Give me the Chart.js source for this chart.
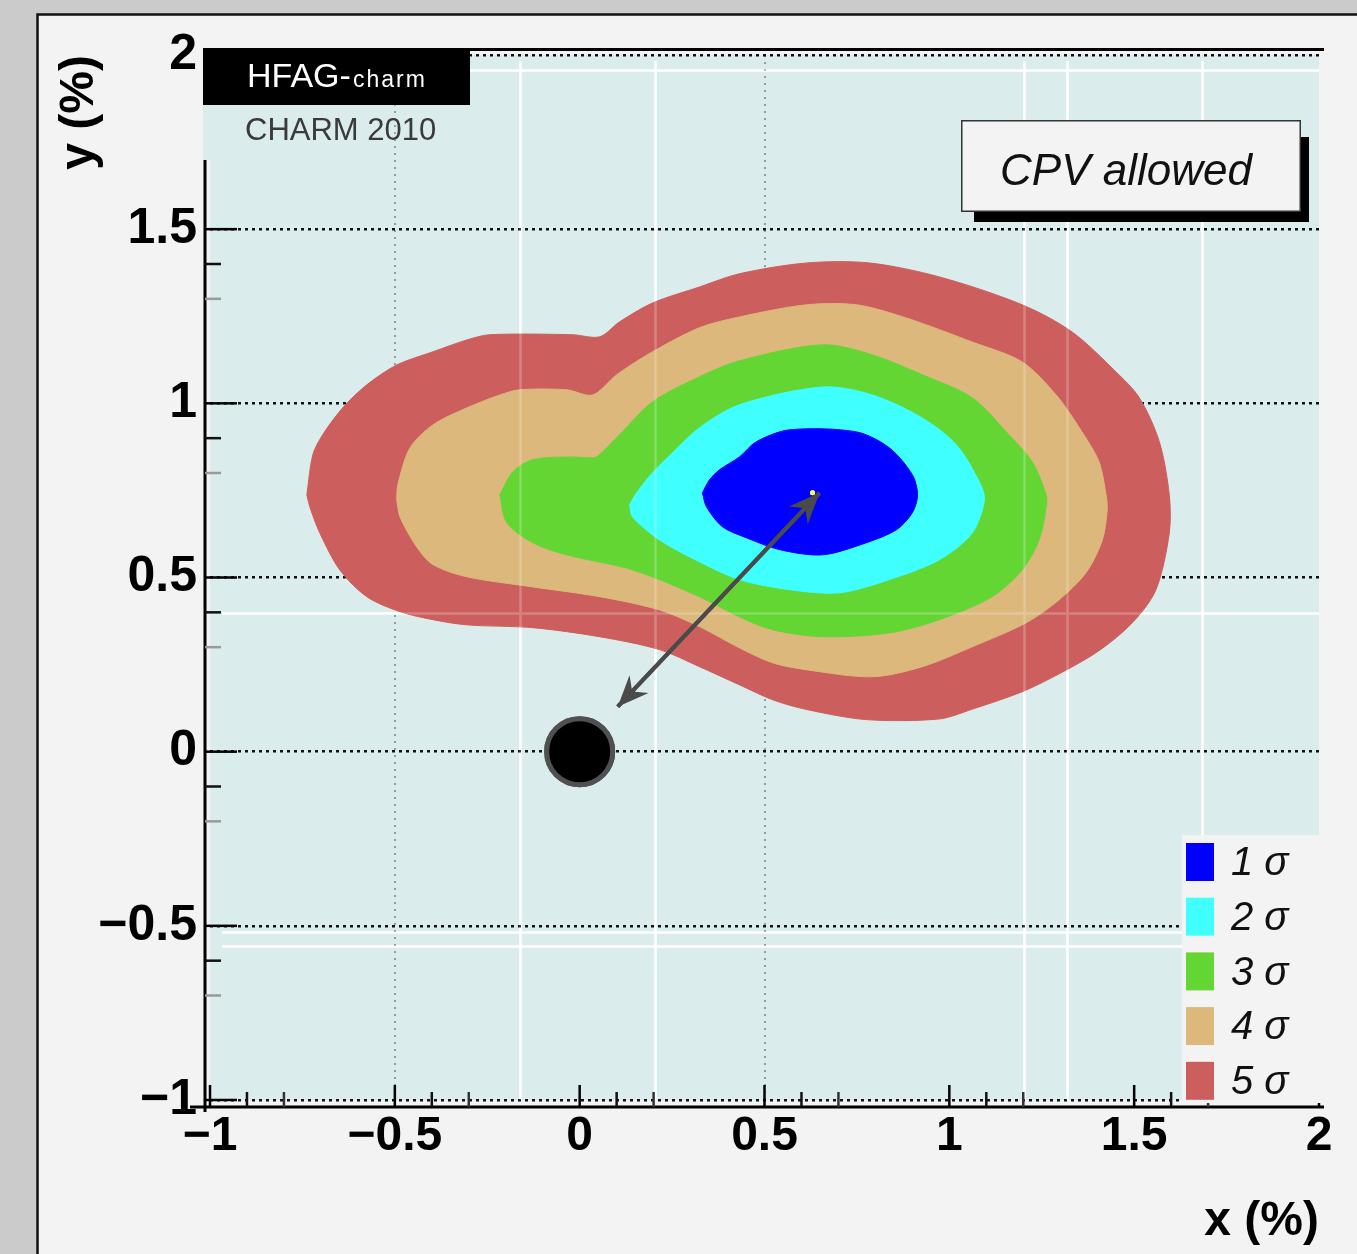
<!DOCTYPE html>
<html>
<head>
<meta charset="utf-8">
<title>D0 mixing: x vs y</title>
<script src="https://cdn.jsdelivr.net/npm/chart.js@4.4.1/dist/chart.umd.min.js"></script>
<style>
  html, body { margin: 0; padding: 0; background: #cbcbcb; }
  canvas { display: block; }
</style>
</head>
<body>
<canvas id="plot" width="1357" height="1254"></canvas>
<script>
// axis ticks, in %
const xTicks = [-1, -0.5, 0, 0.5, 1, 1.5, 2];
const yTicks = [-1, -0.5, 0, 0.5, 1, 1.5, 2];
const xMinorTicks = [-0.9, -0.8, -0.4, -0.3, 0.1, 0.2, 0.6, 0.7, 1.1, 1.2, 1.6, 1.7];
const yMinorTicks = [1.9, 1.8, 1.4, 1.3, 0.9, 0.8, 0.4, 0.3, -0.1, -0.2, -0.6, -0.7];

// confidence contours, [x, y] in %
const sigma1 = [[0.332,0.743],[0.351,0.780],[0.378,0.809],[0.432,0.846],[0.478,0.890],[0.568,0.924],
  [0.749,0.918],[0.838,0.872],[0.900,0.795],[0.914,0.737],[0.900,0.686],[0.857,0.637],[0.776,0.600],
  [0.657,0.565],[0.541,0.580],[0.451,0.614],[0.386,0.646],[0.343,0.703]];
const sigma2 = [[0.135,0.709],[0.154,0.743],[0.197,0.801],[0.251,0.858],[0.324,0.930],[0.432,0.996],
  [0.657,1.047],[0.792,1.024],[0.927,0.958],[1.019,0.881],[1.081,0.775],[1.095,0.723],[1.062,0.628],
  [0.973,0.551],[0.838,0.494],[0.703,0.456],[0.568,0.465],[0.432,0.494],[0.324,0.545],[0.216,0.608],
  [0.143,0.674]];
const sigma3 = [[-0.216,0.737],[-0.181,0.803],[-0.127,0.838],[-0.035,0.846],[0.027,0.844],[0.046,0.846],
  [0.108,0.910],[0.197,1.004],[0.324,1.076],[0.432,1.122],[0.657,1.168],[0.792,1.139],[0.927,1.082],
  [1.062,1.016],[1.154,0.918],[1.224,0.832],[1.262,0.737],[1.262,0.703],[1.243,0.608],[1.197,0.522],
  [1.116,0.445],[0.973,0.379],[0.838,0.341],[0.657,0.330],[0.522,0.350],[0.432,0.387],[0.324,0.445],
  [0.143,0.522],[-0.035,0.565],[-0.127,0.600],[-0.197,0.657]];
const sigma4 = [[-0.495,0.723],[-0.492,0.766],[-0.459,0.872],[-0.397,0.938],[-0.305,0.987],[-0.216,1.024],
  [-0.162,1.039],[-0.035,1.039],[0.035,1.024],[0.100,1.082],[0.197,1.148],[0.324,1.217],[0.432,1.248],
  [0.614,1.283],[0.749,1.283],[0.884,1.245],[1.062,1.176],[1.197,1.119],[1.289,1.024],[1.359,0.918],
  [1.405,0.832],[1.424,0.737],[1.427,0.694],[1.414,0.608],[1.370,0.514],[1.297,0.436],[1.208,0.370],
  [1.062,0.301],[0.927,0.244],[0.792,0.215],[0.614,0.235],[0.522,0.255],[0.432,0.298],[0.324,0.359],
  [0.216,0.407],[0.054,0.445],[-0.127,0.473],[-0.305,0.502],[-0.397,0.537],[-0.441,0.588],[-0.486,0.674]];
const sigma5 = [[-0.738,0.737],[-0.722,0.852],[-0.695,0.910],[-0.641,0.987],[-0.576,1.053],[-0.495,1.110],
  [-0.397,1.148],[-0.305,1.182],[-0.243,1.197],[-0.019,1.197],[0.054,1.191],[0.108,1.234],[0.197,1.288],
  [0.324,1.334],[0.432,1.372],[0.614,1.403],[0.784,1.403],[0.973,1.363],[1.197,1.283],[1.332,1.205],
  [1.451,1.090],[1.514,1.016],[1.568,0.890],[1.595,0.737],[1.595,0.628],[1.559,0.465],[1.495,0.370],
  [1.405,0.290],[1.305,0.228],[1.197,0.172],[1.062,0.122],[0.973,0.094],[0.776,0.092],[0.614,0.121],
  [0.522,0.149],[0.432,0.192],[0.324,0.244],[0.216,0.293],[0.054,0.330],[-0.127,0.356],[-0.305,0.364],
  [-0.397,0.379],[-0.486,0.402],[-0.576,0.445],[-0.649,0.522],[-0.703,0.628],[-0.730,0.703]];
const sigmaLabels = ['1 σ', '2 σ', '3 σ', '4 σ', '5 σ'];

const bestFit = [0.63, 0.743];
const noMixing = [0, 0];
const arrowFrom = [0.103, 0.129];
const arrowTo = [0.649, 0.743];

// light seams running across the frame
const seamX = [-0.162, 0.203, 1.203, 1.319, 1.684];
const seamY = [1.957, 0.399, -0.519, -0.559];

const sigmaColors = ['#0000ff', '#40ffff', '#64d634', '#dcb87c', '#cc5e5e'];
const FONT = '"Liberation Sans", Arial, Helvetica, sans-serif';

const pt = ([x, y]) => ({ x, y });
const fmt = v => (v < 0 ? '\u2212' + (-v) : String(v));

const contourSets = [sigma1, sigma2, sigma3, sigma4, sigma5].map((shape, i) => ({
  label: sigmaLabels[i],
  data: shape.concat([shape[0]]).map(pt),
  showLine: true,
  fill: 'shape',
  tension: 0.3,
  backgroundColor: sigmaColors[i],
  borderColor: sigmaColors[i],
  borderWidth: 1,
  pointRadius: 0,
  order: i + 1
}));

function drawSeams(chart, alpha) {
  const { ctx, chartArea: a, scales: { x, y } } = chart;
  ctx.save();
  ctx.globalAlpha = alpha;
  ctx.strokeStyle = '#ffffff';
  ctx.lineWidth = 2.5;
  ctx.beginPath();
  seamX.forEach(v => {
    const px = Math.round(x.getPixelForValue(v)) + 0.5;
    ctx.moveTo(px, a.top + 6);
    ctx.lineTo(px, a.bottom);
  });
  seamY.forEach(v => {
    const py = Math.round(y.getPixelForValue(v)) + 0.5;
    ctx.moveTo(a.left + 12, py);
    ctx.lineTo(a.right, py);
  });
  ctx.stroke();
  ctx.restore();
}

function arrowHead(ctx, tx, ty, fx, fy) {
  const ang = Math.atan2(ty - fy, tx - fx);
  ctx.save();
  ctx.translate(tx, ty);
  ctx.rotate(ang);
  ctx.beginPath();
  ctx.moveTo(0, 0);
  ctx.lineTo(-31, -13);
  ctx.lineTo(-21, 0);
  ctx.lineTo(-31, 13);
  ctx.closePath();
  ctx.fill();
  ctx.restore();
}

const decor = {
  id: 'decor',
  beforeDraw(chart) {
    const { ctx, width, height, chartArea: a } = chart;
    ctx.save();
    ctx.fillStyle = '#cbcbcb';
    ctx.fillRect(0, 0, width, height);
    ctx.fillStyle = '#f3f3f3';
    ctx.fillRect(38, 15, width - 38, height - 15);
    ctx.strokeStyle = '#111';
    ctx.lineWidth = 2.5;
    ctx.beginPath();
    ctx.moveTo(37.5, height);
    ctx.lineTo(37.5, 14.5);
    ctx.lineTo(width, 14.5);
    ctx.stroke();
    // frame fill
    ctx.fillStyle = '#daeceb';
    ctx.fillRect(a.left, a.top, a.right - a.left, a.bottom - a.top);
    ctx.fillRect(a.left - 7, a.top + 50, 7, 55);
    ctx.restore();
    drawSeams(chart, 1);
  },
  afterDatasetsDraw(chart) {
    drawSeams(chart, 0.22);
  },
  afterDraw(chart) {
    const { ctx, chartArea: a, scales: { x, y } } = chart;

    // marks that sit above the grid
    chart.data.datasets.forEach((ds, i) => {
      if (!ds.onTop) return;
      const meta = chart.getDatasetMeta(i);
      if (meta.dataset) meta.dataset.draw(ctx, a);
      meta.data.forEach(el => el.draw(ctx, a));
    });
    const fx = x.getPixelForValue(arrowFrom[0]), fy = y.getPixelForValue(arrowFrom[1]);
    const tx = x.getPixelForValue(arrowTo[0]), ty = y.getPixelForValue(arrowTo[1]);
    ctx.fillStyle = '#4a4a4a';
    arrowHead(ctx, tx, ty, fx, fy);
    arrowHead(ctx, fx, fy, tx, ty);

    // axes with inward ticks
    const axX = a.left - 5, axY = a.bottom + 7, yStart = a.top + 105;
    ctx.save();
    ctx.strokeStyle = '#000';
    ctx.lineWidth = 3;
    ctx.beginPath();
    ctx.moveTo(axX, yStart);
    ctx.lineTo(axX, a.bottom + 12);
    ctx.moveTo(a.left - 20, axY);
    ctx.lineTo(a.right + 5, axY);
    ctx.moveTo(a.left + 260, a.top - 5.5);
    ctx.lineTo(a.right + 5, a.top - 5.5);
    ctx.stroke();
    ctx.lineWidth = 2.5;
    yTicks.forEach(v => {
      const py = y.getPixelForValue(v);
      if (py < yStart) return;
      ctx.beginPath(); ctx.moveTo(axX, py); ctx.lineTo(axX + 32, py); ctx.stroke();
    });
    yMinorTicks.forEach((v, i) => {
      const py = y.getPixelForValue(v);
      if (py < yStart) return;
      ctx.strokeStyle = i % 2 ? '#9a9a9a' : '#111';
      ctx.beginPath(); ctx.moveTo(axX, py); ctx.lineTo(axX + 16, py); ctx.stroke();
    });
    ctx.strokeStyle = '#000';
    xTicks.forEach(v => {
      const px = x.getPixelForValue(v);
      ctx.beginPath(); ctx.moveTo(px, axY); ctx.lineTo(px, axY - 22); ctx.stroke();
    });
    xMinorTicks.forEach((v, i) => {
      const px = x.getPixelForValue(v);
      ctx.strokeStyle = i % 2 ? '#333' : '#111';
      ctx.beginPath(); ctx.moveTo(px, axY); ctx.lineTo(px, axY - 15); ctx.stroke();
    });
    ctx.restore();

    // sigma legend, bottom right
    const lx = a.right - 137, ly = a.bottom - 265;
    ctx.save();
    ctx.fillStyle = '#f3f3f3';
    ctx.fillRect(lx, ly, a.right - lx + 3, a.bottom + 3 - ly);
    ctx.font = `italic 40px ${FONT}`;
    ctx.textAlign = 'left';
    ctx.textBaseline = 'middle';
    contourSets.forEach((ds, i) => {
      const top = ly + 8 + i * 54.7;
      ctx.fillStyle = ds.backgroundColor;
      ctx.fillRect(lx + 4, top, 28, 38);
      ctx.fillStyle = '#111';
      ctx.fillText(ds.label, lx + 49, top + 21);
    });
    ctx.restore();

    // "CPV allowed" box with shadow
    const bx = a.right - 358, by = a.top + 65, bw = 340, bh = 92;
    ctx.save();
    ctx.fillStyle = '#000';
    ctx.fillRect(bx + 13, by + 17, bw - 5, bh - 7);
    ctx.fillStyle = '#f3f3f3';
    ctx.fillRect(bx, by, bw, bh);
    ctx.strokeStyle = '#333';
    ctx.lineWidth = 1.5;
    ctx.strokeRect(bx + 0.75, by + 0.75, bw - 1.5, bh - 1.5);
    ctx.fillStyle = '#111';
    ctx.font = `italic 44px ${FONT}`;
    ctx.textAlign = 'center';
    ctx.textBaseline = 'alphabetic';
    ctx.fillText('CPV allowed', bx + 165, by + 65);
    ctx.restore();

    // HFAG-charm tag
    ctx.save();
    ctx.fillStyle = '#000';
    ctx.fillRect(a.left - 7, a.top - 7, 267, 57);
    ctx.fillStyle = '#fff';
    ctx.textAlign = 'left';
    ctx.textBaseline = 'alphabetic';
    ctx.font = `34px ${FONT}`;
    ctx.fillText('HFAG-', a.left + 37, a.top + 32);
    const w = ctx.measureText('HFAG-').width;
    ctx.font = `23px ${FONT}`;
    ctx.letterSpacing = '2px';
    ctx.fillText('charm', a.left + 39 + w, a.top + 32);
    ctx.letterSpacing = '0px';
    ctx.fillStyle = '#3a3a3a';
    ctx.font = `31px ${FONT}`;
    ctx.fillText('CHARM 2010', a.left + 35, a.top + 85);
    ctx.restore();
  }
};

new Chart(document.getElementById('plot'), {
  type: 'scatter',
  data: {
    datasets: [
      {
        label: 'no mixing',
        data: [pt(noMixing)],
        pointRadius: 33,
        backgroundColor: '#000',
        borderColor: '#505050',
        borderWidth: 5,
        order: 0,
        onTop: true
      },
      {
        label: 'best fit',
        data: [pt(bestFit)],
        pointRadius: 2.5,
        backgroundColor: '#ffff55',
        borderWidth: 0,
        order: 0,
        onTop: true
      },
      {
        label: 'distance',
        data: [pt(arrowFrom), pt(arrowTo)],
        showLine: true,
        fill: false,
        borderColor: '#4a4a4a',
        borderWidth: 4,
        pointRadius: 0,
        order: 0,
        onTop: true
      },
      ...contourSets
    ]
  },
  options: {
    responsive: false,
    animation: false,
    events: [],
    layout: { padding: { left: 40, top: 55, right: 37, bottom: 0 } },
    plugins: { legend: { display: false }, tooltip: { enabled: false } },
    scales: {
      x: {
        type: 'linear',
        min: -1,
        max: 2,
        z: 1,
        afterBuildTicks: s => { s.ticks = xTicks.map(v => ({ value: v })); },
        afterFit: s => { s.height = 154; },
        grid: {
          color: c => (c.tick && Math.abs(Math.abs(c.tick.value) - 0.5) < 1e-9) ? 'rgba(80,80,80,0.5)' : 'rgba(0,0,0,0)',
          lineWidth: 2,
          drawTicks: false
        },
        border: { display: false, dash: [2, 5] },
        ticks: {
          color: '#000',
          padding: 13,
          autoSkip: false,
          maxRotation: 0,
          font: { family: FONT, size: 48, weight: 'bold', lineHeight: 1 },
          callback: fmt
        },
        title: {
          display: true,
          text: 'x (%)',
          align: 'end',
          color: '#000',
          font: { family: FONT, size: 48, weight: 'bold', lineHeight: 1 },
          padding: { top: 0, bottom: 8 }
        }
      },
      y: {
        type: 'linear',
        min: -1,
        max: 2,
        z: 1,
        afterBuildTicks: s => { s.ticks = yTicks.map(v => ({ value: v })); },
        afterFit: s => { s.width = 170; },
        grid: { color: '#111', lineWidth: 2.5, drawTicks: false },
        border: { display: false, dash: [3, 4] },
        ticks: {
          color: '#000',
          padding: 13,
          autoSkip: false,
          font: { family: FONT, size: 50, weight: 'bold', lineHeight: 1 },
          callback: fmt
        },
        title: {
          display: true,
          text: 'y (%)',
          align: 'end',
          color: '#000',
          font: { family: FONT, size: 48, weight: 'bold', lineHeight: 1 },
          padding: { top: 16, bottom: 0 }
        }
      }
    }
  },
  plugins: [decor]
});
</script>
</body>
</html>
